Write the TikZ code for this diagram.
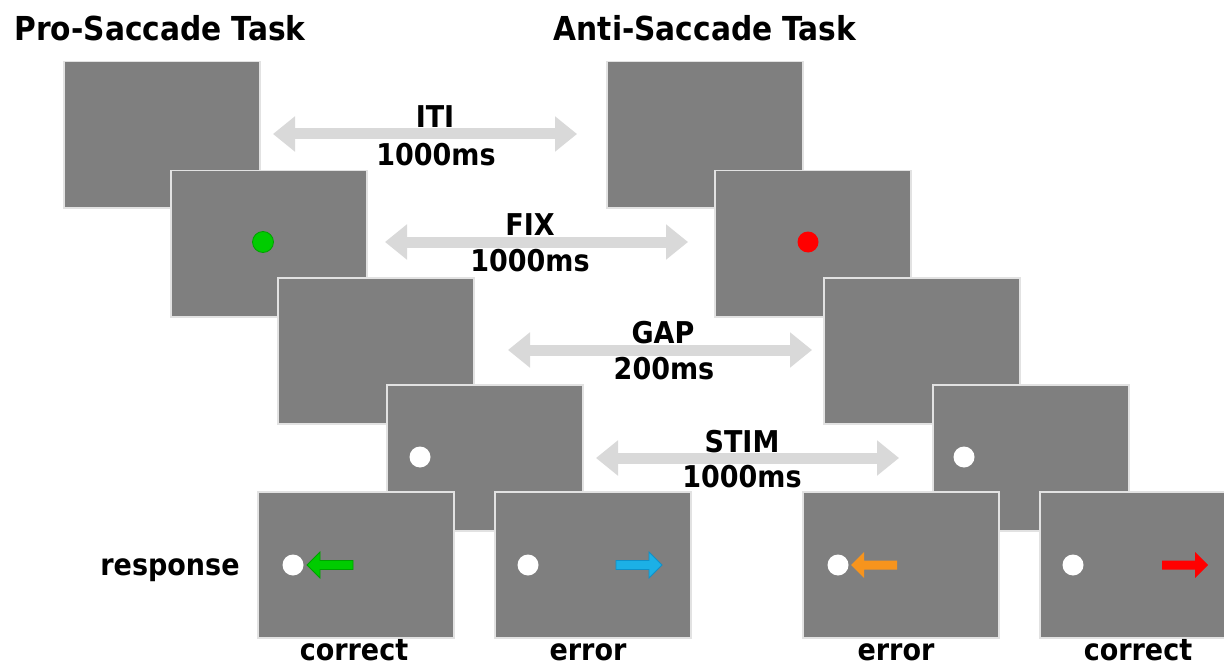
\documentclass[tikz,border=0pt]{standalone}
\usepackage{fontspec}
\usetikzlibrary{arrows.meta}
\newfontfamily\labfont{DejaVu Sans Condensed Bold}

\definecolor{scr}{HTML}{7F7F7F}
\definecolor{scredge}{HTML}{E2E2E2}
\definecolor{barrow}{HTML}{D9D9D9}
\definecolor{fixgreen}{HTML}{00CC00}
\definecolor{fixgreenedge}{HTML}{00A000}
\definecolor{respblue}{HTML}{1CB0E6}
\definecolor{respblueedge}{HTML}{1090C8}
\definecolor{resporange}{HTML}{F7941D}
\definecolor{respred}{HTML}{FF0000}

\tikzset{
  screen/.style={rectangle, fill=scr, draw=scredge, line width=1.5pt,
    minimum width=196pt, minimum height=146pt, inner sep=0pt, anchor=north west},
  phase/.style={draw=barrow, line width=11pt,
    {Triangle[width=34pt,length=22pt]}-{Triangle[width=34pt,length=22pt]}},
  title/.style={anchor=base, inner sep=0pt, font=\labfont\fontsize{33}{38}\selectfont},
  lab/.style={anchor=base, inner sep=0pt, font=\labfont\fontsize{30}{34}\selectfont},
  dot/.style={circle, inner sep=0pt, minimum size=21pt},
  resparrow/.pic={
    \path[pic actions] (0,-4.5) -- (-33,-4.5) -- (-33,-13) -- (-46,0)
      -- (-33,13) -- (-33,4.5) -- (0,4.5) -- cycle;}
}

\begin{document}
\begin{tikzpicture}[x=1pt, y=-1pt]
\clip (0,0) rectangle (1224,666);
\fill[white] (0,0) rectangle (1224,666);

% headings
\node[title] (ttlpro) at (160,41) {Pro-Saccade Task};
\node[title] (ttlanti) at (705,41) {Anti-Saccade Task};

% pro-saccade screens, stacked down to the right
\node[screen] (p1) at (63,61) {};
\node[screen] (p2) at (170,170) {};
\node[dot, fill=fixgreen, draw=fixgreenedge, line width=0.8pt] (pfix) at (263,242) {};
\node[screen] (p3) at (277,277) {};
\node[screen] (p4) at (386,384) {};
\node[dot, fill=white] (pstim) at (420,457) {};
\node[screen] (pr1) at (257,491) {};
\node[screen] (pr2) at (494,491) {};

% anti-saccade screens
\node[screen] (a1) at (606,61) {};
\node[screen] (a2) at (714,170) {};
\node[dot, fill=respred] (afix) at (808,242) {};
\node[screen] (a3) at (823,277) {};
\node[screen] (a4) at (932,384) {};
\node[dot, fill=white] (astim) at (964,457) {};
\node[screen] (ar1) at (802,491) {};
\node[screen] (ar2) at (1039,491) {};

% responses: target dot plus saccade direction
\node[dot, fill=white] (pr1dot) at (293,565) {};
\pic[fill=fixgreen, draw=fixgreenedge, line width=0.8pt] at (353,565) {resparrow};
\node[dot, fill=white] (pr2dot) at (528,565) {};
\pic[fill=respblue, draw=respblueedge, line width=0.8pt, xscale=-1] at (616,565) {resparrow};
\node[dot, fill=white] (ar1dot) at (838,565) {};
\pic[fill=resporange] at (897,565) {resparrow};
\node[dot, fill=white] (ar2dot) at (1073,565) {};
\pic[fill=respred, xscale=-1] at (1162,565) {resparrow};

% phase arrows between the two tasks
\coordinate (itiL) at (273,134);  \coordinate (itiR) at (577,134);
\coordinate (fixL) at (385,242);  \coordinate (fixR) at (688,242);
\coordinate (gapL) at (508,350);  \coordinate (gapR) at (812,350);
\coordinate (stimL) at (596,458); \coordinate (stimR) at (899,458);
\draw[phase] (itiL) -- (itiR);
\draw[phase] (fixL) -- (fixR);
\draw[phase] (gapL) -- (gapR);
\draw[phase] (stimL) -- (stimR);

\node[lab] (itiname) at (435,128) {ITI};
\node[lab] (ititime) at (436,165) {1000ms};
\node[lab] (fixname) at (530,235) {FIX};
\node[lab] (fixtime) at (530,271) {1000ms};
\node[lab] (gapname) at (663,343) {GAP};
\node[lab] (gaptime) at (664,379) {200ms};
\node[lab] (stimname) at (742,452) {STIM};
\node[lab] (stimtime) at (742,487) {1000ms};

% response labels
\node[lab] (resp) at (170,575) {response};
\node[lab] (pcorrect) at (354,660) {correct};
\node[lab] (perror) at (588,660) {error};
\node[lab] (aerror) at (896,660) {error};
\node[lab] (acorrect) at (1138,660) {correct};
\end{tikzpicture}
\end{document}
